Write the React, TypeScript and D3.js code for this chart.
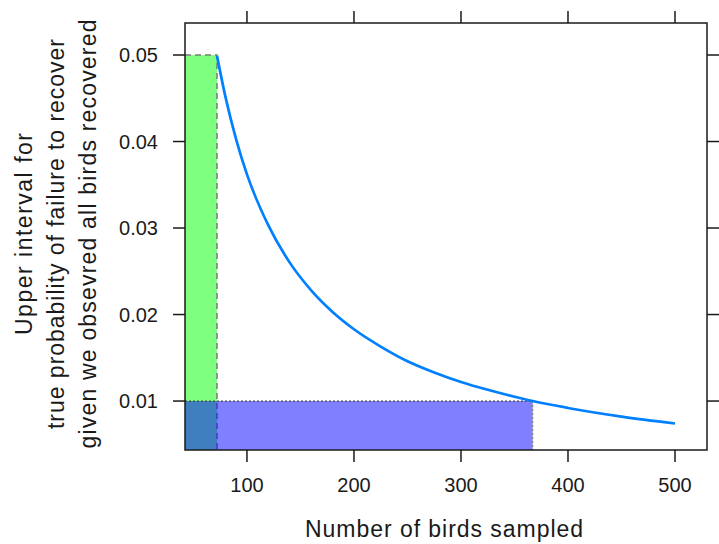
import React, { useEffect, useRef } from "react";
import * as d3 from "d3";

// sample size vs. upper bound of the failure probability
const birdCounts = [72, 80, 90, 100, 120, 140, 160, 180, 200, 225, 250, 275, 300, 325, 350, 367, 400, 450, 500];
const upperBounds = [
  0.0499, 0.0451, 0.0402, 0.0362, 0.0303, 0.026, 0.0228, 0.0203, 0.0183, 0.0163, 0.0146, 0.0133, 0.0122,
  0.0113, 0.0105, 0.01, 0.0092, 0.0082, 0.0074,
];

// shaded regions: [birds needed, probability level]
const greenRegion = [72, 0.05];
const blueRegion = [367, 0.01];

const xTicks = [100, 200, 300, 400, 500];
const yTicks = [0.01, 0.02, 0.03, 0.04, 0.05];
const yTickLabels = ["0.01", "0.02", "0.03", "0.04", "0.05"];

const xTitle = "Number of birds sampled";
const yTitleLines = [
  "Upper interval for",
  "true probability of failure to recover",
  "given we obsevred all birds recovered",
];

const App = () => {
  const chartRef = useRef<SVGSVGElement>(null);

  useEffect(() => {
    const width = 719;
    const height = 544;
    const panel = { left: 185, right: 707, top: 23, bottom: 450 };
    const font = "'Liberation Sans', Arial, sans-serif";
    const ink = "#1a1a1a";

    const svg = d3.select(chartRef.current).attr("width", width).attr("height", height);
    svg.selectAll("*").remove();

    const x = d3.scaleLinear().domain([42.1, 529.9]).range([panel.left, panel.right]);
    const y = d3.scaleLinear().domain([0.00434, 0.0537]).range([panel.bottom, panel.top]);

    svg.append("rect").attr("width", width).attr("height", height).attr("fill", "white");

    const clip = svg.append("clipPath").attr("id", "panel-clip");
    clip
      .append("rect")
      .attr("x", panel.left)
      .attr("y", panel.top)
      .attr("width", panel.right - panel.left)
      .attr("height", panel.bottom - panel.top);

    const plot = svg.append("g").attr("clip-path", "url(#panel-clip)");

    // green region
    plot
      .append("rect")
      .attr("x", panel.left)
      .attr("y", y(greenRegion[1]))
      .attr("width", x(greenRegion[0]) - panel.left)
      .attr("height", panel.bottom - y(greenRegion[1]))
      .attr("fill", "rgb(0,255,0)")
      .attr("fill-opacity", 0.5);
    plot
      .append("path")
      .attr("d", `M${panel.left},${y(greenRegion[1])}H${x(greenRegion[0])}V${panel.bottom}`)
      .attr("fill", "none")
      .attr("stroke", "#7a7a7a")
      .attr("stroke-width", 1.5)
      .attr("stroke-dasharray", "6,4");

    // blue region
    plot
      .append("rect")
      .attr("x", panel.left)
      .attr("y", y(blueRegion[1]))
      .attr("width", x(blueRegion[0]) - panel.left)
      .attr("height", panel.bottom - y(blueRegion[1]))
      .attr("fill", "rgb(0,0,255)")
      .attr("fill-opacity", 0.5);
    plot
      .append("path")
      .attr("d", `M${panel.left},${y(blueRegion[1])}H${x(blueRegion[0])}`)
      .attr("fill", "none")
      .attr("stroke", "#444")
      .attr("stroke-width", 1.3)
      .attr("stroke-dasharray", "2,2");
    plot
      .append("path")
      .attr("d", `M${x(blueRegion[0])},${y(blueRegion[1])}V${panel.bottom}`)
      .attr("fill", "none")
      .attr("stroke", "#888")
      .attr("stroke-width", 1.3)
      .attr("stroke-dasharray", "2,2");

    // curve
    const line = d3
      .line<number>()
      .x((d, i) => x(birdCounts[i]))
      .y((d) => y(d))
      .curve(d3.curveMonotoneX);

    plot
      .append("path")
      .datum(upperBounds)
      .attr("d", line)
      .attr("fill", "none")
      .attr("stroke", "#0080ff")
      .attr("stroke-width", 2.7);

    // panel box
    svg
      .append("rect")
      .attr("x", panel.left)
      .attr("y", panel.top)
      .attr("width", panel.right - panel.left)
      .attr("height", panel.bottom - panel.top)
      .attr("fill", "none")
      .attr("stroke", ink)
      .attr("stroke-width", 1.5);

    const tickLen = 12;
    const ticks = svg.append("g").attr("stroke", ink).attr("stroke-width", 1.5);
    xTicks.forEach((t) => {
      ticks.append("line").attr("x1", x(t)).attr("x2", x(t)).attr("y1", panel.bottom).attr("y2", panel.bottom + tickLen);
      ticks.append("line").attr("x1", x(t)).attr("x2", x(t)).attr("y1", panel.top).attr("y2", panel.top - tickLen);
    });
    yTicks.forEach((t) => {
      ticks.append("line").attr("x1", panel.left).attr("x2", panel.left - tickLen).attr("y1", y(t)).attr("y2", y(t));
      ticks.append("line").attr("x1", panel.right).attr("x2", panel.right + tickLen).attr("y1", y(t)).attr("y2", y(t));
    });

    const labels = svg.append("g").attr("font-family", font).attr("fill", ink);

    xTicks.forEach((t) => {
      labels
        .append("text")
        .attr("x", x(t))
        .attr("y", 492)
        .attr("text-anchor", "middle")
        .attr("font-size", 20)
        .text(String(t));
    });

    yTicks.forEach((t, i) => {
      labels
        .append("text")
        .attr("x", 158)
        .attr("y", y(t))
        .attr("dy", "0.36em")
        .attr("text-anchor", "end")
        .attr("font-size", 20)
        .text(yTickLabels[i]);
    });

    labels
      .append("text")
      .attr("x", 444)
      .attr("y", 537)
      .attr("text-anchor", "middle")
      .attr("font-size", 23)
      .attr("textLength", 278)
      .attr("lengthAdjust", "spacing")
      .text(xTitle);

    const yTitleBase = [32, 64, 96];
    const yTitleLen = [202, 390, 429];
    yTitleLines.forEach((txt, i) => {
      labels
        .append("text")
        .attr("transform", `translate(${yTitleBase[i]},234) rotate(-90)`)
        .attr("text-anchor", "middle")
        .attr("font-size", 23)
        .attr("textLength", yTitleLen[i])
        .attr("lengthAdjust", "spacing")
        .text(txt);
    });
  }, []);

  return <svg ref={chartRef} style={{ position: "absolute", left: 0, top: 0 }}></svg>;
};

export default App;
